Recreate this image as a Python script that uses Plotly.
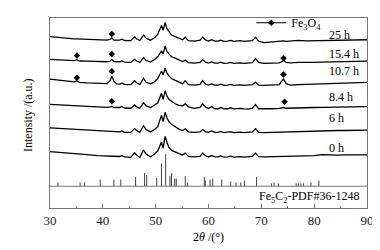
import plotly.graph_objects as go

# 2-theta grid (deg) shared by all patterns
two_theta = [30, 32, 34, 34.6, 35.1, 35.6, 37, 39, 40.8, 41.4, 41.7, 42.1, 42.6, 43.2, 43.6, 44.1,
             45.3, 46.0, 46.4, 47.0, 47.7, 48.2, 49.0, 49.8, 50.4, 51.1, 51.4, 51.8, 52.1, 52.5,
             53.0, 53.7, 54.4, 55.1, 55.6, 56.2, 57.3, 58.4, 58.9, 59.5, 60.0, 60.6, 61.2, 61.8,
             62.3, 62.9, 63.6, 64.2, 64.8, 65.5, 66.0, 66.7, 67.5, 68.3, 68.9, 69.5, 70.5, 72,
             73.4, 73.8, 74.2, 74.7, 75.5, 77, 78.5, 80, 81.5, 83, 84.5, 86, 88, 90]

# stacked intensities (a.u., offset included)
int_25h = [181.3, 180.0, 179.3, 179.0, 179.0, 178.8, 178.3, 177.8, 177.5, 178.5, 180.0, 177.5, 177.3, 177.5, 178.5, 177.2,
           177.0, 181.0, 179.0, 177.0, 183.0, 179.5, 177.5, 180.0, 184.0, 193.0, 188.0, 196.3, 190.0, 186.3,
           183.0, 181.3, 179.5, 178.0, 180.7, 177.0, 176.5, 177.5, 180.7, 177.5, 176.5, 178.0, 176.5, 176.5,
           177.5, 176.3, 176.5, 177.3, 176.3, 176.8, 177.0, 176.3, 176.3, 177.0, 180.5, 176.5, 175.0, 176.0,
           176.3, 176.5, 176.8, 176.3, 176.5, 177.3, 176.8, 177.0, 177.3, 177.8, 177.5, 178.0, 177.8, 178.0]
int_15h = [157.3, 156.5, 156.0, 156.0, 157.0, 155.5, 155.3, 155.0, 154.7, 155.5, 157.0, 155.0, 154.5, 154.7, 155.5, 154.3,
           154.0, 157.3, 155.5, 154.0, 159.0, 156.0, 154.5, 157.0, 160.0, 166.3, 163.0, 171.3, 166.0, 163.0,
           160.0, 158.5, 156.5, 155.0, 156.3, 153.8, 153.3, 154.0, 157.0, 154.0, 153.3, 154.5, 153.3, 153.3,
           154.3, 153.0, 153.3, 154.0, 153.0, 153.5, 153.5, 153.0, 153.0, 153.8, 158.0, 154.0, 153.0, 153.3,
           153.5, 154.5, 156.3, 154.0, 153.5, 154.0, 153.8, 154.0, 154.3, 154.5, 154.5, 155.0, 155.0, 155.3]
int_10h = [136.3, 135.3, 134.0, 133.5, 134.5, 133.0, 132.3, 131.7, 131.5, 135.0, 139.7, 134.0, 131.3, 131.0, 132.0, 130.8,
           130.5, 134.7, 132.5, 130.5, 137.0, 133.0, 131.3, 133.5, 137.0, 144.7, 141.0, 148.0, 143.0, 139.7,
           137.0, 135.0, 133.0, 131.5, 134.7, 130.5, 130.0, 130.7, 134.7, 130.7, 130.0, 131.3, 130.0, 130.0,
           131.0, 129.8, 130.0, 130.7, 129.8, 130.3, 130.3, 129.7, 129.8, 130.5, 133.0, 130.0, 129.7, 130.0,
           130.5, 134.0, 136.3, 131.5, 130.0, 130.5, 130.7, 131.0, 131.3, 131.5, 132.0, 132.3, 132.5, 133.0]
int_8h = [109.7, 109.0, 108.3, 108.0, 107.8, 107.7, 107.3, 106.8, 106.5, 107.0, 107.5, 106.3, 106.0, 106.3, 107.5, 105.8,
          105.5, 109.0, 107.0, 105.5, 111.3, 108.0, 106.3, 108.5, 111.0, 121.3, 115.0, 124.0, 119.0, 115.0,
          113.0, 110.3, 108.5, 108.0, 110.3, 107.0, 105.5, 106.5, 110.3, 106.5, 105.3, 107.3, 105.0, 105.0,
          106.3, 104.8, 105.0, 106.0, 104.8, 105.3, 105.3, 104.8, 104.7, 105.5, 109.5, 105.0, 104.7, 105.0,
          105.3, 105.5, 106.3, 105.5, 105.5, 105.8, 106.0, 106.3, 106.5, 106.7, 107.0, 107.0, 107.3, 107.3]
int_6h = [84.7, 84.0, 83.3, 83.0, 82.8, 82.7, 82.3, 81.5, 81.0, 80.8, 81.0, 80.5, 80.3, 80.5, 81.5, 80.0,
          80.0, 84.0, 82.0, 80.0, 87.0, 83.0, 80.5, 83.0, 86.0, 98.0, 91.3, 101.3, 96.0, 91.3,
          88.5, 86.0, 83.5, 82.0, 83.7, 80.5, 80.0, 80.5, 83.0, 80.5, 80.0, 81.5, 80.0, 80.0,
          81.0, 79.8, 80.0, 80.8, 79.8, 80.3, 80.3, 79.8, 79.8, 80.5, 84.0, 80.0, 79.7, 80.0,
          80.3, 80.3, 80.5, 80.5, 80.5, 80.8, 81.0, 81.3, 81.5, 81.8, 82.0, 82.0, 82.3, 82.3]
int_0h = [59.7, 59.0, 58.0, 57.7, 57.5, 57.3, 56.5, 55.5, 55.0, 54.8, 54.7, 54.5, 54.3, 54.5, 55.5, 54.0,
          53.5, 58.5, 56.0, 53.5, 61.3, 57.0, 54.0, 57.0, 60.5, 69.7, 63.0, 75.7, 70.0, 64.0,
          61.0, 59.5, 57.5, 56.0, 58.0, 54.5, 54.0, 54.5, 58.0, 55.0, 54.0, 55.5, 54.0, 54.0,
          55.0, 53.8, 54.0, 54.8, 53.8, 54.3, 54.3, 53.8, 53.8, 54.5, 58.0, 54.3, 54.0, 54.3,
          54.3, 54.5, 54.5, 54.5, 54.5, 55.0, 55.0, 55.5, 56.5, 56.0, 56.0, 56.3, 56.3, 56.3]

series_names = ["25 h", "15.4 h", "10.7 h", "8.4 h", "6 h", "0 h"]
series_vals = [int_25h, int_15h, int_10h, int_8h, int_6h, int_0h]
label_levels = [183, 163, 145, 117, 95, 64]

# Fe3O4 reflection markers
fe3o4_x = [41.7, 35.1, 41.7, 74.2, 35.1, 41.7, 74.2, 41.7, 74.4]
fe3o4_y = [184, 161.3, 163, 158.5, 137.7, 144.7, 141.3, 113, 112.3]

# Fe5C2 PDF#36-1248 reference lines (relative intensity)
pdf_pos = [31.5, 35.7, 36.5, 39.5, 42.1, 43.4, 46.2, 47.9, 48.3, 50.2, 51.1, 51.9, 52.7, 53.0, 53.6, 53.9,
           55.6, 56.0, 59.2, 59.4, 60.3, 60.8, 62.5, 64.2, 65.2, 66.1, 66.8, 69.1, 71.9, 72.4, 73.2,
           76.6, 77.0, 77.5, 78.0, 79.4, 80.9]
pdf_rel = [12, 12, 12, 21, 21, 21, 29, 41, 35, 26, 71, 100, 32, 41, 24, 24,
           32, 12, 29, 18, 21, 24, 21, 15, 12, 12, 18, 29, 9, 12, 9,
           9, 9, 9, 9, 12, 18]
pdf_base = 23
pdf_scale = 0.34

x_ticks = [30, 40, 50, 60, 70, 80, 90]

FONT = "Liberation Serif, Times New Roman, serif"
AX = "#777777"

fig = go.Figure()

for name, vals in zip(series_names, series_vals):
    fig.add_trace(go.Scatter(x=two_theta, y=vals, mode="lines", showlegend=False,
                             line=dict(color="black", width=1.3), name=name))

# stick pattern
sx, sy = [], []
for p, r in zip(pdf_pos, pdf_rel):
    sx += [p, p, None]
    sy += [pdf_base, pdf_base + r * pdf_scale, None]
fig.add_trace(go.Scatter(x=sx, y=sy, mode="lines", showlegend=False,
                         line=dict(color="#444444", width=1)))

fig.add_trace(go.Scatter(x=fe3o4_x, y=fe3o4_y, mode="markers", showlegend=False,
                         marker=dict(symbol="diamond", size=5, color="black")))
fig.add_trace(go.Scatter(x=[None], y=[None], mode="lines+markers",
                         name="Fe<sub>3</sub>O<sub>4</sub>",
                         line=dict(color="black", width=1),
                         marker=dict(symbol="diamond", size=5, color="black")))

for name, lv in zip(series_names, label_levels):
    fig.add_annotation(x=82.5, y=lv, text=name, showarrow=False, xanchor="left",
                       yanchor="middle", font=dict(size=12, color="black", family=FONT))

fig.add_annotation(x=0.98, xref="paper", y=pdf_base / 2 + 0.5, text="Fe<sub>5</sub>C<sub>2</sub>-PDF#36-1248",
                   showarrow=False, xanchor="right", yanchor="middle",
                   font=dict(size=12, color="black", family=FONT))

# y-axis title placed as rotated text
fig.add_annotation(x=-0.069, xref="paper", y=0.49, yref="paper", text="Intensity /(a.u.)",
                   textangle=-90, showarrow=False, xanchor="center", yanchor="middle",
                   font=dict(size=12, color="black", family=FONT))

fig.add_shape(type="line", xref="paper", x0=0, x1=1, y0=pdf_base, y1=pdf_base,
              line=dict(color=AX, width=1))

fig.update_layout(
    width=372, height=242,
    margin=dict(l=42, r=13, t=0, b=42),
    paper_bgcolor="white", plot_bgcolor="white",
    font=dict(family=FONT, size=12, color="black"),
    legend=dict(x=0.635, y=0.975, xanchor="left", yanchor="middle",
                bgcolor="rgba(0,0,0,0)", font=dict(size=12, family=FONT)),
    xaxis=dict(range=[30, 90], tickvals=x_ticks, ticks="inside", ticklen=4, tickcolor=AX,
               showline=True, linecolor=AX, linewidth=1, mirror=True, showgrid=False,
               zeroline=False, tickfont=dict(size=13, color="#222222"), automargin=False,
               minor=dict(dtick=5, ticks="inside", ticklen=2, tickcolor=AX, showgrid=False),
               title=dict(text="2<i>θ</i> /(°)", font=dict(size=12), standoff=6)),
    yaxis=dict(range=[0, 201], showticklabels=False, ticks="", showline=True, linecolor=AX,
               linewidth=1, mirror=True, showgrid=False, zeroline=False, automargin=False),
)

fig.write_html("out.html")
